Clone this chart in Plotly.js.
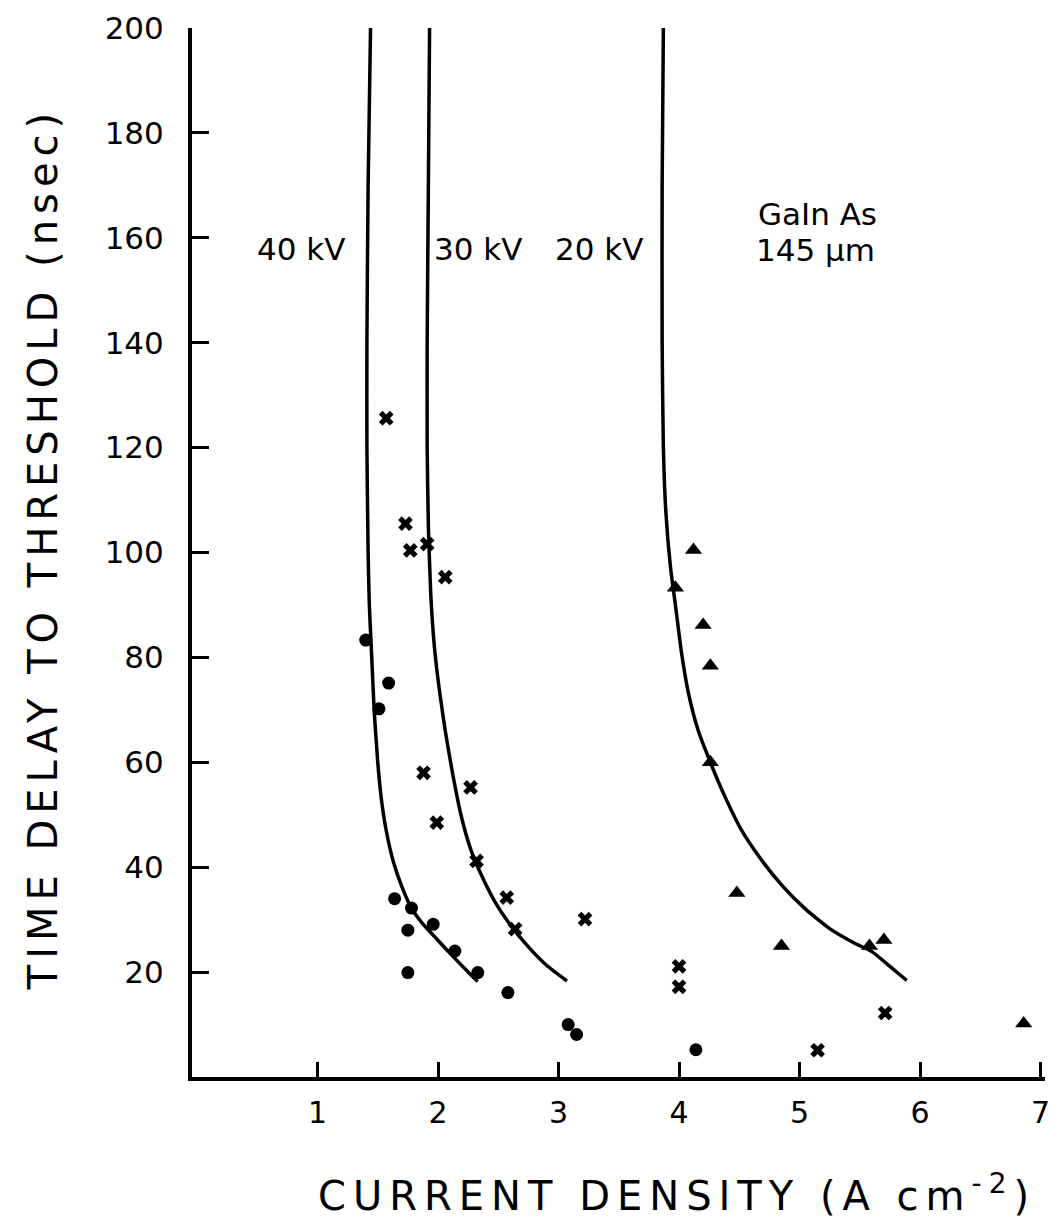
<!DOCTYPE html>
<html>
<head>
<meta charset="utf-8">
<script src="https://cdn.plot.ly/plotly-3.0.1.min.js"></script>
<style>
html, body { margin: 0; padding: 0; background: #fff; }
#chart { width: 1050px; height: 1220px; }
</style>
</head>
<body>
<div id="chart"></div>
<script>
// ---- Data ----
// 40 kV measurements (filled circles)
const circX = [1.40, 1.51, 1.59, 1.64, 1.78, 1.75, 1.96, 2.14, 1.75, 2.33, 2.58, 3.08, 3.15, 4.14];
const circY = [83.3, 70.2, 75.1, 34.0, 32.2, 28.0, 29.1, 24.0, 19.9, 19.9, 16.1, 10.0, 8.1, 5.2];
// 30 kV measurements (crosses)
const crossX = [1.57, 1.73, 1.77, 1.91, 2.06, 1.88, 2.27, 1.99, 2.32, 2.57, 2.64, 3.22, 4.00, 4.00, 5.71, 5.15];
const crossY = [125.6, 105.5, 100.4, 101.6, 95.3, 58.0, 55.2, 48.5, 41.2, 34.2, 28.2, 30.1, 21.1, 17.2, 12.2, 5.1];
// 20 kV measurements (triangles)
const triX = [4.12, 3.97, 4.20, 4.26, 4.26, 4.48, 4.85, 5.58, 5.70, 6.86];
const triY = [100.5, 93.3, 86.2, 78.4, 60.0, 35.1, 25.0, 25.0, 26.1, 10.2];

// Drawn curves (traced)
const c40X = [1.44, 1.42, 1.41, 1.41, 1.42, 1.43, 1.45, 1.47, 1.50, 1.53, 1.57, 1.63, 1.70, 1.78, 1.87, 1.97, 2.07, 2.17, 2.26, 2.33];
const c40Y = [200, 170, 140, 120, 100, 90, 80, 70, 60, 53, 47, 41, 36.3, 32.2, 29.3, 26.8, 24.3, 21.9, 19.8, 18.2];
const c30X = [1.93, 1.92, 1.91, 1.91, 1.92, 1.94, 1.97, 2.01, 2.06, 2.12, 2.19, 2.27, 2.36, 2.47, 2.60, 2.75, 2.90, 3.07];
const c30Y = [200, 170, 140, 120, 105, 92, 82, 74, 66, 58, 50, 43.5, 38.5, 33.5, 29, 24.8, 21.3, 18.3];
const c20X = [3.87, 3.86, 3.86, 3.87, 3.89, 3.93, 3.97, 4.02, 4.08, 4.16, 4.26, 4.38, 4.52, 4.68, 4.86, 5.05, 5.25, 5.45, 5.60, 5.75, 5.89];
const c20Y = [200, 170, 140, 120, 108, 97, 90, 81, 73, 66, 60, 53.5, 47, 41.5, 36.4, 32, 28.3, 25.6, 23.9, 21.1, 18.4];

const xTicks = [1, 2, 3, 4, 5, 6, 7];
const yTicks = [20, 40, 60, 80, 100, 120, 140, 160, 180, 200];

const xTitle = 'CURRENT DENSITY (A cm<sup>-2</sup>)';
const yTitle = 'TIME DELAY TO THRESHOLD (nsec)';
const labelText = ['40 kV', '30 kV', '20 kV', 'GaIn As', '145 \u03bcm'];
const labelX = [0.86, 2.33, 3.34, 5.15, 5.13];
const labelY = [157.9, 157.9, 157.9, 164.6, 157.7];

const ink = '#000000';
const font = 'DejaVu Sans, Liberation Sans, sans-serif';

const curveLine = {color: ink, width: 3.5, shape: 'spline', smoothing: 0.5};

const traces = [
  {x: c40X, y: c40Y, mode: 'lines', line: curveLine, hoverinfo: 'skip'},
  {x: c30X, y: c30Y, mode: 'lines', line: curveLine, hoverinfo: 'skip'},
  {x: c20X, y: c20Y, mode: 'lines', line: curveLine, hoverinfo: 'skip'},
  {x: circX, y: circY, mode: 'markers', marker: {symbol: 'circle', size: 13, color: ink}},
  {x: crossX, y: crossY, mode: 'markers', marker: {symbol: 'x', size: 13, color: ink, line: {width: 0}}},
  {x: triX, y: triY, mode: 'markers', marker: {symbol: 'triangle-up', size: 15, color: ink}}
];

const annotations = [
  {xref: 'paper', yref: 'paper', x: -0.1747, y: 0.504, text: yTitle, textangle: -90,
   showarrow: false, xanchor: 'center', yanchor: 'middle', font: {family: font, size: 40, color: ink}},
  {xref: 'paper', yref: 'paper', x: 0.568, y: -0.1106, text: xTitle,
   showarrow: false, xanchor: 'center', yanchor: 'middle', font: {family: font, size: 40, color: ink}}
];
labelText.forEach((t, i) => {
  annotations.push({xref: 'x', yref: 'y', x: labelX[i], y: labelY[i], text: t, showarrow: false,
    xanchor: 'center', yanchor: 'middle', font: {family: font, size: 31, color: ink}});
});

const layout = {
  width: 1050, height: 1220,
  margin: {l: 192, r: 5, t: 28, b: 143},
  paper_bgcolor: '#fff', plot_bgcolor: '#fff',
  showlegend: false,
  xaxis: {
    range: [-0.0415, 7.037], showgrid: false, zeroline: false,
    showline: true, linecolor: ink, linewidth: 4,
    ticks: 'inside', ticklen: 15, tickwidth: 3, tickcolor: ink,
    tickvals: xTicks, ticktext: xTicks.map(String), ticklabeloverflow: 'allow',
    tickfont: {family: font, size: 30, color: ink}, ticklabelstandoff: 6
  },
  yaxis: {
    range: [0, 200], showgrid: false, zeroline: false,
    showline: true, linecolor: ink, linewidth: 4,
    ticks: 'inside', ticklen: 17, tickwidth: 3, tickcolor: ink,
    tickvals: yTicks, ticktext: yTicks.map(String), ticklabeloverflow: 'allow',
    tickfont: {family: font, size: 31, color: ink}, ticklabelstandoff: 18
  },
  annotations: annotations
};

Plotly.newPlot('chart', traces, layout, {staticPlot: true}).then(() => {
  document.querySelectorAll('.annotation[data-index="0"] text').forEach(t => { t.style.letterSpacing = '6px'; });
  document.querySelectorAll('.annotation[data-index="1"] text').forEach(t => { t.style.letterSpacing = '7px'; });
});
</script>
</body>
</html>
